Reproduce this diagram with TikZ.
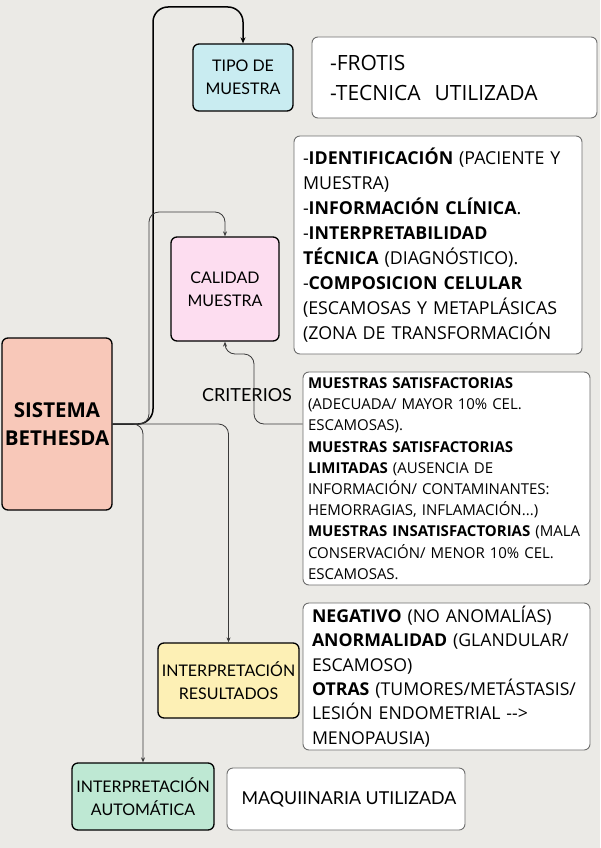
\documentclass[tikz,border=0pt]{standalone}
\usepackage{fontspec}
\setmainfont{Open Sans}
\newfontfamily\etiqueta{Lato}
\usepackage{xcolor}
\usepackage{tikz}
\usetikzlibrary{arrows.meta,positioning}
\definecolor{fondo}{HTML}{EBEAE6}
\definecolor{salmon}{HTML}{F8C8B9}
\definecolor{celeste}{HTML}{C9ECF1}
\definecolor{rosa}{HTML}{FDDDF0}
\definecolor{amarillo}{HTML}{FDF0B5}
\definecolor{menta}{HTML}{BEE8D3}
\definecolor{borde}{HTML}{6E6E6E}
\definecolor{linea}{HTML}{3A3A3A}

\begin{document}
\begin{tikzpicture}[x=1pt,y=-1pt,
  caja/.style={draw=black,line width=1.3pt,rounded corners=6pt,align=center,inner sep=0pt,
    font=\etiqueta\fontsize{16}{23}\selectfont},
  texto/.style={draw=borde,fill=white,line width=0.9pt,rounded corners=6pt,align=left,inner ysep=0pt},
  flecha/.style={draw=linea,line width=0.8pt,rounded corners=10pt,-{Stealth[length=5pt,width=4pt]}},
  flechagruesa/.style={draw=black,line width=1.5pt,rounded corners=15pt,-{Stealth[length=6pt,width=5pt]}}]
\fill[fondo] (0,0) rectangle (600,848);
\useasboundingbox (0,0) rectangle (600,848);

% nodos de colores
\node[caja,fill=salmon,minimum width=110,minimum height=172,
  font=\fontsize{20.5}{28}\selectfont\bfseries] (sistema) at (57,424) {SISTEMA\\BETHESDA};
\node[caja,fill=celeste,minimum width=100,minimum height=67] (tipo) at (243,77.5) {TIPO DE\\MUESTRA};
\node[caja,fill=rosa,minimum width=108,minimum height=104] (calidad) at (225,289) {CALIDAD\\MUESTRA};
\node[caja,fill=amarillo,minimum width=141,minimum height=75] (resultados) at (228.5,680.5) {INTERPRETACIÓN\\RESULTADOS};
\node[caja,fill=menta,minimum width=142,minimum height=67] (automatica) at (143,796.5) {INTERPRETACIÓN\\AUTOMÁTICA};

% cuadros de texto
\node[texto,inner xsep=18pt,text width=249,minimum height=81,
  font=\fontsize{21}{30}\selectfont] (frotis) at (454.5,77.5) {%
-FROTIS\\
-TECNICA\ \ UTILIZADA};
\node[texto,inner xsep=9pt,text width=270,minimum height=218,
  font=\fontsize{17.8}{25}\selectfont] (requisitos) at (438,245) {%
-\textbf{IDENTIFICACIÓN} (PACIENTE Y\\
MUESTRA)\\
-\textbf{INFORMACIÓN CLÍNICA}.\\
-\textbf{INTERPRETABILIDAD}\\
\textbf{TÉCNICA} (DIAGNÓSTICO).\\
-\textbf{COMPOSICION CELULAR}\\
(ESCAMOSAS Y METAPLÁSICAS\\
(ZONA DE TRANSFORMACIÓN};
\node[texto,inner xsep=5pt,text width=277,minimum height=213,
  font=\fontsize{15}{21.2}\selectfont] (criterios) at (446.5,478.5) {%
\textbf{MUESTRAS SATISFACTORIAS}\\
(ADECUADA/ MAYOR 10\% CEL.\\
ESCAMOSAS).\\
\textbf{MUESTRAS SATISFACTORIAS}\\
\textbf{LIMITADAS} (AUSENCIA DE\\
INFORMACIÓN/ CONTAMINANTES:\\
HEMORRAGIAS, INFLAMACIÓN...)\\
\textbf{MUESTRAS INSATISFACTORIAS} (MALA\\
CONSERVACIÓN/ MENOR 10\% CEL.\\
ESCAMOSAS.};
\node[texto,inner xsep=9pt,text width=269,minimum height=147,
  font=\fontsize{17.7}{24.4}\selectfont] (hallazgos) at (446.5,676.5) {%
\textbf{NEGATIVO} (NO ANOMALÍAS)\\
\textbf{ANORMALIDAD} (GLANDULAR/\\
ESCAMOSO)\\
\textbf{OTRAS} (TUMORES/METÁSTASIS/\\
LESIÓN ENDOMETRIAL -{}-{}>\\
MENOPAUSIA)};
\node[texto,align=center,minimum width=238,minimum height=62,
  font=\etiqueta\fontsize{17.8}{22}\selectfont] (maquinaria) at (346,799) {\hspace*{6pt}MAQUIINARIA UTILIZADA};

\node[font=\etiqueta\fontsize{18}{22}\selectfont,inner sep=0pt] (critlbl) at (247,395) {CRITERIOS};

% conectores
\draw[flechagruesa] (sistema.east) -| (153,7) -| (tipo.north);
\draw[flecha] (sistema.east) -| (149,212) -| (calidad.north);
\draw[flecha] (sistema.east) -| (resultados.north);
\draw[flecha] (sistema.east) -| (automatica.north);
\draw[flecha] (criterios.west |- sistema.east) -| (254,354) -| (calidad.south);
\end{tikzpicture}
\end{document}
